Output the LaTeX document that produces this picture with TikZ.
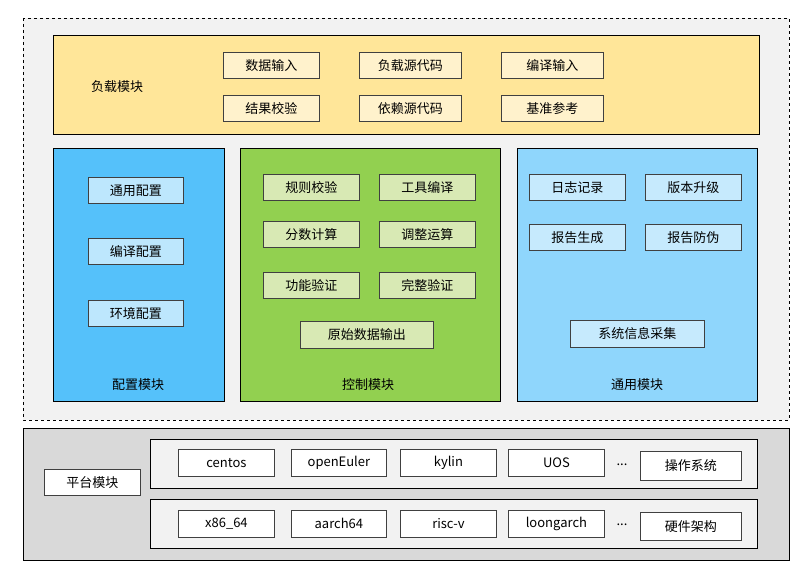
\documentclass[tikz,border=0pt]{standalone}
\usepackage{fontspec}
\setmainfont{Liberation Sans}
\newfontfamily\cjk{Noto Sans CJK SC}
\definecolor{bgA}{HTML}{F2F2F2}
\definecolor{platG}{HTML}{D9D9D9}
\definecolor{yel}{HTML}{FFE699}
\definecolor{yelL}{HTML}{FFF2CC}
\definecolor{bluD}{HTML}{55C1FA}
\definecolor{bluDL}{HTML}{BDE7FD}
\definecolor{grn}{HTML}{92D050}
\definecolor{grnL}{HTML}{D8E9B4}
\definecolor{bluL}{HTML}{8FD6FC}
\definecolor{bluLL}{HTML}{C6EAFD}
\tikzset{
  px/.style={x=1pt,y=-1pt},
  box/.style={draw=black!75,line width=0.8pt,font=\cjk\fontsize{13}{15}\selectfont,inner sep=0pt},
  lab/.style={font=\cjk\fontsize{13}{15}\selectfont,inner sep=0pt},
}
\newcommand{\tb}[7]{\node[box,fill=#6,minimum width=#3pt-#1pt,minimum height=#4pt-#2pt,anchor=north west] (#7) at (#1,#2) {#5};}
\begin{document}
\begin{tikzpicture}[px]
\useasboundingbox (0,0) rectangle (812,577);
\draw[dashed,fill=bgA,line width=0.7pt] (23,18) rectangle (789,420);
\draw[fill=platG,line width=0.7pt] (23,428) rectangle (789,560);
% load
\draw[fill=yel,line width=0.8pt] (53,35) rectangle (759,134);
\node[lab] (lm) at (117,87) {负载模块};
\tb{223}{52}{319}{78}{数据输入}{yelL}{a1}
\tb{359}{52}{461}{78}{负载源代码}{yelL}{a2}
\tb{501}{52}{603}{78}{编译输入}{yelL}{a3}
\tb{223}{95}{319}{121}{结果校验}{yelL}{a4}
\tb{359}{95}{461}{121}{依赖源代码}{yelL}{a5}
\tb{501}{95}{603}{121}{基准参考}{yelL}{a6}
% config
\draw[fill=bluD,line width=0.8pt] (53,148) rectangle (224,401);
\tb{88}{177}{183}{203}{通用配置}{bluDL}{b1}
\tb{88}{238}{183}{264}{编译配置}{bluDL}{b2}
\tb{88}{300}{183}{326}{环境配置}{bluDL}{b3}
\node[lab] (cm) at (138,385) {配置模块};
% control
\draw[fill=grn,line width=0.8pt] (240,148) rectangle (500,401);
\tb{263}{174}{359}{200}{规则校验}{grnL}{c1}
\tb{379}{174}{475}{200}{工具编译}{grnL}{c2}
\tb{263}{221}{359}{247}{分数计算}{grnL}{c3}
\tb{379}{221}{475}{247}{调整运算}{grnL}{c4}
\tb{263}{272}{359}{298}{功能验证}{grnL}{c5}
\tb{379}{272}{475}{298}{完整验证}{grnL}{c6}
\tb{300}{321}{433}{348}{原始数据输出}{grnL}{c7}
\node[lab] (km) at (368,385) {控制模块};
% general
\draw[fill=bluL,line width=0.8pt] (517,148) rectangle (757,401);
\tb{529}{174}{625}{200}{日志记录}{bluLL}{d1}
\tb{645}{174}{741}{200}{版本升级}{bluLL}{d2}
\tb{529}{224}{625}{250}{报告生成}{bluLL}{d3}
\tb{645}{224}{741}{250}{报告防伪}{bluLL}{d4}
\tb{570}{320}{704}{347}{系统信息采集}{bluLL}{d5}
\node[lab] (gm) at (637,385) {通用模块};
% platform
\tb{44}{469}{140}{495}{平台模块}{white}{p0}
\draw[fill=bgA,line width=0.8pt] (150,439) rectangle (757,488);
\draw[fill=bgA,line width=0.8pt] (150,499) rectangle (757,548);
\tb{178}{449}{274}{476}{centos}{white}{o1}
\tb{291}{449}{386}{476}{openEuler}{white}{o2}
\tb{400}{449}{496}{476}{kylin}{white}{o3}
\tb{508}{449}{604}{476}{UOS}{white}{o4}
\node[lab] (o5) at (622,465) {...};
\tb{640}{451}{741}{480}{操作系统}{white}{o6}
\tb{178}{510}{274}{537}{x86\_64}{white}{h1}
\tb{291}{510}{386}{537}{aarch64}{white}{h2}
\tb{400}{510}{496}{537}{risc-v}{white}{h3}
\tb{508}{510}{604}{537}{loongarch}{white}{h4}
\node[lab] (h5) at (622,525) {...};
\tb{640}{512}{741}{540}{硬件架构}{white}{h6}
\end{tikzpicture}
\end{document}
